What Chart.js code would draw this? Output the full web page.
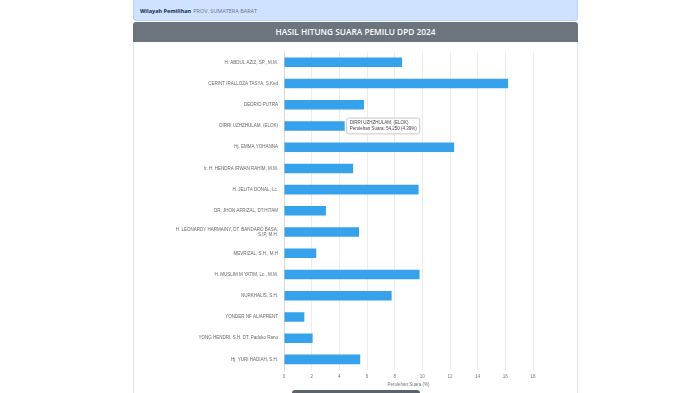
<!DOCTYPE html>
<html>
<head>
<meta charset="utf-8">
<script src="https://cdn.jsdelivr.net/npm/chart.js@4"></script>
<style>
  html, body { margin: 0; padding: 0; background: #ffffff; width: 700px; height: 393px; overflow: hidden; }
  #region {
    position: absolute; left: 133px; top: -4px; width: 443px; height: 23px;
    background: #cfe2ff; border: 1px solid #b6d4fe; border-radius: 3px;
    font-family: "Open Sans", "Liberation Sans", sans-serif; font-size: 5.5px;
  }
  #region .row { position: absolute; left: 6px; top: 4px; line-height: 20px; white-space: nowrap; }
  #region span.lbl { font-weight: 700; color: #0b2a55; }
  #region span.val { color: #6b7280; margin-left: 2px; }
  #header {
    position: absolute; left: 133px; top: 22px; width: 445px; height: 20px;
    background: #6c757d; border-radius: 3px 3px 0 0; color: #ffffff;
    font-family: "Open Sans", "Liberation Sans", sans-serif; font-weight: 600; font-size: 8.3px;
    text-align: center; line-height: 20px;
  }
  #card {
    position: absolute; left: 133px; top: 42px; width: 443px; height: 360px;
    border: 1px solid #dee2e6; border-top: none; background: #ffffff;
  }
  #chart { position: absolute; left: 134px; top: 43px; }
  #btn {
    position: absolute; left: 292px; top: 390px; width: 128px; height: 10px;
    background: #5c636a; border-radius: 3px;
  }
</style>
</head>
<body>
<div id="region"><div class="row"><span class="lbl">Wilayah Pemilihan</span><span class="val">PROV. SUMATERA BARAT</span></div></div>
<div id="header">HASIL HITUNG SUARA PEMILU DPD 2024</div>
<div id="card"></div>
<canvas id="chart" width="443" height="350"></canvas>
<div id="btn"></div>
<script>
const categories = [
  "H. ABDUL AZIZ, SP., M.M.",
  "CERINT IRALLOZA TASYA, S.Ked",
  "DEDRIO PUTRA",
  "DIRRI UZHZHULAM, (ELOK)",
  "Hj. EMMA YOHANNA",
  "Ir. H. HENDRA IRWAN RAHIM, M.M.",
  "H. JELITA DONAL, Lc.",
  "DR. JHON AFRIZAL, DT.HITAM",
  ["H. LEONARDY HARMAINY, DT. BANDARO BASA,", "S.IP, M.H."],
  "MEVRIZAL, S.H., M.H",
  "H. MUSLIM M YATIM, Lc., M.M.",
  "NURKHALIS, S.H.",
  "YONDER NF ALIAPRENT",
  "YONG HENDRI, S.H. DT. Paduko Rano",
  "Hj. YURI HADIAH, S.H."
];
const percentages = [8.54, 16.20, 5.78, 4.39, 12.30, 5.00, 9.73, 3.03, 5.42, 2.33, 9.80, 7.78, 1.47, 2.07, 5.51];
const xTickMax = 18;
const xTickStep = 2;
const axisTitle = "Perolehan Suara (%)";
const tooltipIndex = 3;
const tooltipVotes = 54250;

const FONT = "'Liberation Sans', Arial, sans-serif";

const chart = new Chart(document.getElementById('chart'), {
  type: 'bar',
  data: {
    labels: categories,
    datasets: [{
      data: percentages,
      backgroundColor: '#36A2EB',
      hoverBackgroundColor: '#36A2EB',
      borderWidth: 0,
      barPercentage: 0.5,
      categoryPercentage: 0.9
    }]
  },
  options: {
    indexAxis: 'y',
    responsive: false,
    devicePixelRatio: 1,
    animation: false,
    events: [],
    layout: { padding: { top: 8, right: 44, bottom: 3, left: 0 } },
    plugins: {
      legend: { display: false },
      tooltip: {
        enabled: true,
        backgroundColor: 'rgba(255,255,255,0.97)',
        borderColor: '#c8c8c8',
        borderWidth: 1,
        cornerRadius: 2,
        caretSize: 0,
        caretPadding: 2,
        xAlign: 'left',
        yAlign: 'center',
        displayColors: false,
        padding: { x: 3, y: 2 },
        titleColor: '#444',
        bodyColor: '#444',
        titleFont: { family: FONT, size: 4.5, weight: 'normal' },
        bodyFont: { family: FONT, size: 4.5 },
        titleMarginBottom: 1,
        callbacks: {
          label: (ctx) => 'Perolehan Suara: ' + tooltipVotes.toLocaleString('en-US') + ' (' + ctx.parsed.x.toFixed(2) + '%)'
        }
      }
    },
    scales: {
      x: {
        min: 0,
        max: xTickMax,
        ticks: { stepSize: xTickStep, padding: 4, color: '#777', font: { family: FONT, size: 4.5 } },
        grid: { color: '#ececec', drawTicks: false },
        border: { display: false },
        title: { display: true, text: axisTitle, color: '#777', font: { family: FONT, size: 4.5 }, padding: { top: 0, bottom: 3 } },
        afterFit: (s) => { s.height = 20; }
      },
      y: {
        ticks: { padding: 6, color: '#666', font: { family: FONT, size: 4.5 } },
        grid: { display: false, drawTicks: false },
        border: { display: true, color: '#d9d9d9' },
        afterFit: (s) => { s.width = 150; }
      }
    }
  }
});

const meta = chart.getDatasetMeta(0);
const el = meta.data[tooltipIndex];
chart.tooltip.setActiveElements([{ datasetIndex: 0, index: tooltipIndex }], { x: el.x, y: el.y });
chart.draw();
</script>
</body>
</html>
